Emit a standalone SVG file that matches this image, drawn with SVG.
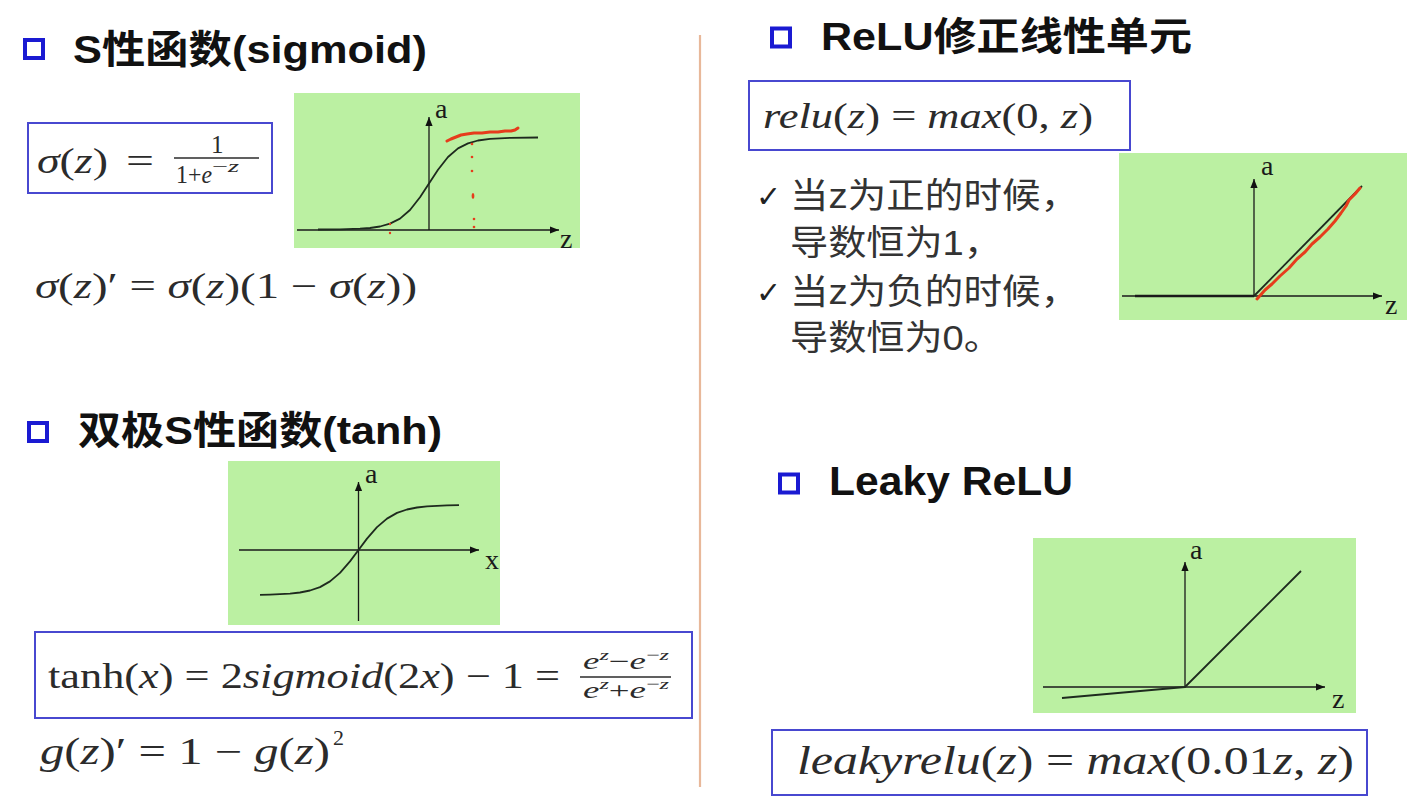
<svg xmlns="http://www.w3.org/2000/svg" width="1413" height="801" viewBox="0 0 1413 801">
<style>
.hd{font-family:"Liberation Sans","Noto Sans CJK SC",sans-serif;font-weight:bold;fill:#111;}
.sq{fill:#fff;stroke:#1a1ad2;stroke-width:4;}
.box{fill:none;stroke:#4848d0;stroke-width:2;}
.m{font-family:"Liberation Serif","DejaVu Serif",serif;fill:#2b2b2b;}
.it{font-style:italic;}
.panel{fill:#bbf0a2;}
.ax{stroke:#1a1a1a;stroke-width:1.3;fill:none;}
.cv{stroke:#1e2a1e;stroke-width:1.8;fill:none;stroke-linejoin:round;}
.red{stroke:#e63c1c;stroke-width:3;fill:none;stroke-linecap:round;stroke-linejoin:round;}
.lbl{font-family:"Liberation Serif","DejaVu Serif",serif;font-size:28px;fill:#1a1a1a;}
.bl{font-family:"Liberation Sans","Noto Sans CJK SC",sans-serif;font-size:35px;fill:#333;}
.ck{font-family:"DejaVu Sans",sans-serif;font-size:30px;fill:#222;}
</style>
<defs>
<marker id="arr" viewBox="0 0 10 10" refX="10" refY="5" markerWidth="10" markerHeight="9" markerUnits="userSpaceOnUse" orient="auto">
<path d="M0,1 L10,5 L0,9 z" fill="#111"/>
</marker>
</defs>
<rect width="1413" height="801" fill="#fff"/>

<g id="divider">
<line x1="700" y1="35" x2="700" y2="787" stroke="#e8b89a" stroke-width="2.2"/>
</g>

<!-- Sigmoid section -->
<g id="h-sigmoid">
<rect class="sq" x="25" y="40" width="18" height="18"/>
<text class="hd" x="73" y="63" font-size="39" textLength="354" lengthAdjust="spacingAndGlyphs">S性函数(sigmoid)</text>
</g>
<g id="f-sigmoid">
<rect class="box" x="28" y="123" width="244" height="70"/>
<text class="m" x="37" y="173" font-size="35" textLength="71" lengthAdjust="spacingAndGlyphs"><tspan class="it">σ</tspan>(<tspan class="it">z</tspan>)</text>
<text class="m" x="126" y="173" font-size="35" textLength="28" lengthAdjust="spacingAndGlyphs">=</text>
<text class="m" x="211" y="153" font-size="25">1</text>
<line x1="174" y1="158" x2="259" y2="158" stroke="#2b2b2b" stroke-width="1.5"/>
<text class="m" x="176" y="183" font-size="25" textLength="36" lengthAdjust="spacingAndGlyphs">1+<tspan class="it">e</tspan></text>
<text class="m" x="212" y="172" font-size="16" textLength="27" lengthAdjust="spacingAndGlyphs">−<tspan class="it">z</tspan></text>
</g>
<g id="f-sigmoid-deriv">
<text class="m" x="35" y="298" font-size="35" textLength="382" lengthAdjust="spacingAndGlyphs"><tspan class="it">σ</tspan>(<tspan class="it">z</tspan>)′ = <tspan class="it">σ</tspan>(<tspan class="it">z</tspan>)(1 − <tspan class="it">σ</tspan>(<tspan class="it">z</tspan>))</text>
</g>
<g id="g-sigmoid">
<rect class="panel" x="294" y="93" width="286" height="155"/>
<line class="ax" x1="297" y1="230" x2="559" y2="230" marker-end="url(#arr)"/>
<line class="ax" x1="429" y1="230" x2="429" y2="117" marker-end="url(#arr)"/>
<text class="lbl" x="435" y="118">a</text>
<text class="lbl" x="560" y="248">z</text>
<polyline class="cv" points="318,229.5 340,229.3 360,228.7 370,228 380,226.5 390,223.6 400,218.6 410,210 420,197.3 429,183.5 438,169.7 448,157 458,148.4 468,143.4 478,140.5 490,138.9 510,137.8 538,137.5"/>
<polyline class="red" points="447,141 451,139 456,137 461,135 467,134 474,133 482,133 490,132 498,132 505,131 511,131 515,130 518,128"/>
<g fill="#e63c1c">
<circle cx="472" cy="144" r="1.3"/>
<circle cx="472" cy="157" r="1.3"/>
<circle cx="472" cy="171" r="1.3"/>
<ellipse cx="473" cy="196" rx="1.4" ry="3"/>
<circle cx="474" cy="219" r="1.3"/>
<circle cx="474" cy="227" r="1.3"/>
<circle cx="390" cy="224" r="1.2"/>
<circle cx="390" cy="233" r="1.2"/>
</g>
</g>

<!-- Tanh section -->
<g id="h-tanh">
<rect class="sq" x="29" y="423" width="18" height="18"/>
<text class="hd" x="78" y="444" font-size="39" textLength="364" lengthAdjust="spacingAndGlyphs">双极S性函数(tanh)</text>
</g>
<g id="g-tanh">
<rect class="panel" x="228" y="461" width="272" height="164"/>
<line class="ax" x1="239" y1="550" x2="479" y2="550" marker-end="url(#arr)"/>
<line class="ax" x1="358.5" y1="621" x2="358.5" y2="482" marker-end="url(#arr)"/>
<text class="lbl" x="365" y="483">a</text>
<text class="lbl" x="485" y="569">x</text>
<polyline class="cv" points="260,594.8 270,594.6 280,594.2 290,593.6 300,592.5 310,590.5 320,587.1 330,581.4 340,572.9 350,561.4 358.5,550 367,538.6 377,527.1 387,518.6 397,512.9 407,509.5 417,507.5 427,506.4 437,505.8 447,505.4 459,505.2"/>
</g>
<g id="f-tanh">
<rect class="box" x="35" y="632" width="657" height="86"/>
<text class="m" x="48" y="688" font-size="36" textLength="512" lengthAdjust="spacingAndGlyphs">tanh(<tspan class="it">x</tspan>) = 2<tspan class="it">sigmoid</tspan>(2<tspan class="it">x</tspan>) − 1 =</text>
<text class="m" x="583" y="669" font-size="23" textLength="86" lengthAdjust="spacingAndGlyphs"><tspan class="it">e</tspan><tspan font-size="15" dy="-9" class="it">z</tspan><tspan dy="9">−</tspan><tspan class="it">e</tspan><tspan font-size="15" dy="-9">−<tspan class="it">z</tspan></tspan></text>
<line x1="580" y1="677" x2="671" y2="677" stroke="#2b2b2b" stroke-width="1.5"/>
<text class="m" x="583" y="698" font-size="23" textLength="86" lengthAdjust="spacingAndGlyphs"><tspan class="it">e</tspan><tspan font-size="15" dy="-9" class="it">z</tspan><tspan dy="9">+</tspan><tspan class="it">e</tspan><tspan font-size="15" dy="-9">−<tspan class="it">z</tspan></tspan></text>
</g>
<g id="f-tanh-deriv">
<text class="m" x="40" y="764" font-size="37" textLength="290" lengthAdjust="spacingAndGlyphs"><tspan class="it">g</tspan>(<tspan class="it">z</tspan>)′ = 1 − <tspan class="it">g</tspan>(<tspan class="it">z</tspan>)</text>
<text class="m" x="333" y="745" font-size="22">2</text>
</g>

<!-- ReLU section -->
<g id="h-relu">
<rect class="sq" x="772" y="28.5" width="18" height="18"/>
<text class="hd" x="821" y="50" font-size="39" textLength="371" lengthAdjust="spacingAndGlyphs">ReLU修正线性单元</text>
</g>
<g id="f-relu">
<rect class="box" x="749" y="81" width="381" height="69"/>
<text class="m" x="763" y="128" font-size="36" textLength="330" lengthAdjust="spacingAndGlyphs"><tspan class="it">relu</tspan>(<tspan class="it">z</tspan>) = <tspan class="it">max</tspan>(0, <tspan class="it">z</tspan>)</text>
</g>
<g id="notes-relu">
<text class="ck" x="756" y="207">✓</text>
<text class="bl" x="790" y="208" textLength="289" lengthAdjust="spacingAndGlyphs">当z为正的时候，</text>
<text class="bl" x="790" y="255" textLength="212" lengthAdjust="spacingAndGlyphs">导数恒为1，</text>
<text class="ck" x="756" y="303">✓</text>
<text class="bl" x="790" y="304" textLength="289" lengthAdjust="spacingAndGlyphs">当z为负的时候，</text>
<text class="bl" x="790" y="350" textLength="212" lengthAdjust="spacingAndGlyphs">导数恒为0。</text>
</g>
<g id="g-relu">
<rect class="panel" x="1119" y="153" width="288" height="167"/>
<line class="ax" x1="1122" y1="296" x2="1382" y2="296" marker-end="url(#arr)"/>
<line x1="1135" y1="296" x2="1254" y2="296" stroke="#1a1a1a" stroke-width="2.6"/>
<line class="ax" x1="1254" y1="296" x2="1254" y2="179" marker-end="url(#arr)"/>
<text class="lbl" x="1261" y="175">a</text>
<text class="lbl" x="1385" y="314">z</text>
<line class="cv" x1="1254" y1="296" x2="1362" y2="186"/>
<polyline class="red" stroke-width="2.6" points="1257,299 1265,290 1272,284 1280,276 1289,268 1297,259 1305,252 1312,244 1320,237 1328,229 1335,221 1341,213 1346,206 1349,200 1355,194 1360,188"/>
</g>

<!-- Leaky ReLU section -->
<g id="h-leaky">
<rect class="sq" x="780" y="474.5" width="18" height="18"/>
<text class="hd" x="829" y="495" font-size="41" textLength="244" lengthAdjust="spacingAndGlyphs">Leaky ReLU</text>
</g>
<g id="g-leaky">
<rect class="panel" x="1033" y="538" width="323" height="175"/>
<line class="ax" x1="1043" y1="687" x2="1325" y2="687" marker-end="url(#arr)"/>
<line class="ax" x1="1185" y1="687" x2="1185" y2="562" marker-end="url(#arr)"/>
<text class="lbl" x="1190" y="559">a</text>
<text class="lbl" x="1332" y="708">z</text>
<polyline class="cv" points="1062,698 1185,687 1301,571"/>
</g>
<g id="f-leaky">
<rect class="box" x="772" y="730" width="595" height="65"/>
<text class="m" x="797" y="774" font-size="41" textLength="557" lengthAdjust="spacingAndGlyphs"><tspan class="it">leakyrelu</tspan>(<tspan class="it">z</tspan>) = <tspan class="it">max</tspan>(0.01<tspan class="it">z</tspan>, <tspan class="it">z</tspan>)</text>
</g>
</svg>
